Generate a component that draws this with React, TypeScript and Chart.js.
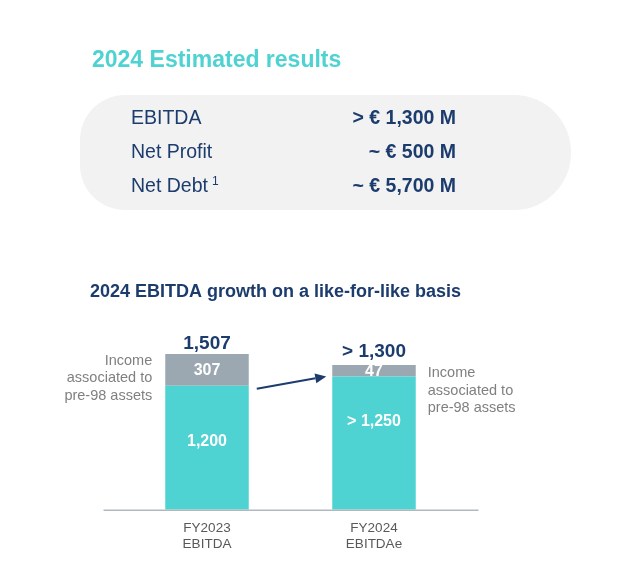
import React, { useEffect, useRef } from "react";
import { Chart, registerables } from "chart.js";

Chart.register(...registerables);

// ---------- data ----------
const categories = [["FY2023", "EBITDA"], ["FY2024", "EBITDAe"]];
// segment heights as drawn in the picture (EUR M)
const baseValues = [1200, 1290];
const pre98Values = [307, 110];
const baseLabels = ["1,200", "> 1,250"];
const pre98Labels = ["307", "47"];
const totalLabels = ["1,507", "> 1,300"];
const annotationLines = ["Income", "associated to", "pre-98 assets"];
const headerTitle = "2024 Estimated results";
const chartTitle = "2024 EBITDA growth on a like-for-like basis";
const summaryNames = ["EBITDA", "Net Profit", "Net Debt"];
const summaryValues = ["> \u20AC 1,300 M", "~ \u20AC 500 M", "~ \u20AC 5,700 M"];
const summaryNotes = ["", "", "1"];

// ---------- style ----------
const FONT = '"Liberation Sans", Arial, Helvetica, sans-serif';
const TEAL = "#4fd2d2";
const GREY_SEG = "#9ca8b1";
const NAVY = "#1c3c6e";
const GREY_TXT = "#808080";
const TICK = "#595959";
const BASE_LABEL_FRAC = [0.45, 0.335];
const TOTAL_OFFSET = [5, 8];

const overlay = {
  id: "overlay",
  beforeDraw(chart: any) {
    const ctx = chart.ctx as CanvasRenderingContext2D;
    ctx.save();
    ctx.fillStyle = "#ffffff";
    ctx.fillRect(0, 0, chart.width, chart.height);

    // header title
    ctx.fillStyle = TEAL;
    ctx.font = `bold 23px ${FONT}`;
    ctx.textAlign = "left";
    ctx.textBaseline = "alphabetic";
    ctx.fillText(headerTitle, 92, 67);

    // summary box
    ctx.fillStyle = "#f2f2f2";
    ctx.beginPath();
    (ctx as any).roundRect(80, 95, 491, 115, [45, 57, 57, 45]);
    ctx.fill();

    const rowBase = [124, 157.5, 191.5];
    summaryNames.forEach((name, i) => {
      ctx.fillStyle = NAVY;
      ctx.font = `19.5px ${FONT}`;
      ctx.textAlign = "left";
      ctx.fillText(name, 131, rowBase[i]);
      if (summaryNotes[i]) {
        const w = ctx.measureText(name).width;
        ctx.font = `12px ${FONT}`;
        ctx.fillText(summaryNotes[i], 131 + w + 4, rowBase[i] - 7);
      }
      ctx.font = `bold 19.5px ${FONT}`;
      ctx.textAlign = "right";
      ctx.fillText(summaryValues[i], 456, rowBase[i]);
    });

    // chart title
    ctx.fillStyle = NAVY;
    ctx.font = `bold 18px ${FONT}`;
    ctx.textAlign = "left";
    ctx.fillText(chartTitle, 90, 297);
    ctx.restore();
  },
  afterDatasetsDraw(chart: any) {
    const ctx = chart.ctx as CanvasRenderingContext2D;
    const area = chart.chartArea;
    const m0 = chart.getDatasetMeta(0);
    const m1 = chart.getDatasetMeta(1);
    ctx.save();

    // axis line
    ctx.strokeStyle = "#b1b9c0";
    ctx.lineWidth = 1.5;
    ctx.beginPath();
    ctx.moveTo(area.left - 20, area.bottom + 0.5);
    ctx.lineTo(area.right + 21, area.bottom + 0.5);
    ctx.stroke();

    const bars0 = m0.data.map((b: any) => b.getProps(["x", "y", "base", "width"], true));
    const bars1 = m1.data.map((b: any) => b.getProps(["x", "y", "base", "width"], true));

    // segment labels
    ctx.fillStyle = "#ffffff";
    ctx.font = `bold 16px ${FONT}`;
    ctx.textAlign = "center";
    ctx.textBaseline = "middle";
    bars0.forEach((b: any, i: number) => {
      const y = b.y + (b.base - b.y) * BASE_LABEL_FRAC[i];
      ctx.fillText(baseLabels[i], b.x, y);
    });
    bars1.forEach((b: any, i: number) => {
      ctx.fillText(pre98Labels[i], b.x, (b.y + b.base) / 2 + 1);
    });

    // totals
    ctx.fillStyle = NAVY;
    ctx.font = `bold 19px ${FONT}`;
    ctx.textBaseline = "alphabetic";
    bars1.forEach((b: any, i: number) => {
      ctx.fillText(totalLabels[i], b.x, b.y - TOTAL_OFFSET[i]);
    });

    // annotations
    ctx.fillStyle = GREY_TXT;
    ctx.font = `14.5px ${FONT}`;
    ctx.textBaseline = "middle";
    const l = bars1[0];
    ctx.textAlign = "right";
    annotationLines.forEach((t, k) => {
      ctx.fillText(t, l.x - l.width / 2 - 13, l.y + 7 + k * 17.5);
    });
    const r = bars1[1];
    ctx.textAlign = "left";
    annotationLines.forEach((t, k) => {
      ctx.fillText(t, r.x + r.width / 2 + 12, r.y + 8 + k * 17.5);
    });

    // arrow
    const sx = bars0[0].x + bars0[0].width / 2 + 8;
    const sy = bars0[0].y + 3;
    const ex = bars0[1].x - bars0[1].width / 2 - 6;
    const ey = bars0[1].y;
    const ang = Math.atan2(ey - sy, ex - sx);
    const hl = 11;
    const hw = 5;
    ctx.strokeStyle = NAVY;
    ctx.fillStyle = NAVY;
    ctx.lineWidth = 2;
    ctx.beginPath();
    ctx.moveTo(sx, sy);
    ctx.lineTo(ex - hl * Math.cos(ang), ey - hl * Math.sin(ang));
    ctx.stroke();
    ctx.beginPath();
    ctx.moveTo(ex, ey);
    ctx.lineTo(ex - hl * Math.cos(ang) + hw * Math.sin(ang), ey - hl * Math.sin(ang) - hw * Math.cos(ang));
    ctx.lineTo(ex - hl * Math.cos(ang) - hw * Math.sin(ang), ey - hl * Math.sin(ang) + hw * Math.cos(ang));
    ctx.closePath();
    ctx.fill();

    ctx.restore();
  },
};

export default function App() {
  const ref = useRef<HTMLCanvasElement>(null);
  useEffect(() => {
    const chart = new Chart(ref.current as HTMLCanvasElement, {
      type: "bar",
      data: {
        labels: categories as any,
        datasets: [
          {
            label: "Like-for-like",
            data: baseValues,
            backgroundColor: TEAL,
            barPercentage: 0.5,
            categoryPercentage: 1,
          },
          {
            label: "Pre-98 assets",
            data: pre98Values,
            backgroundColor: GREY_SEG,
            barPercentage: 0.5,
            categoryPercentage: 1,
          },
        ],
      },
      options: {
        animation: false,
        responsive: false,
        layout: { padding: { top: 303, bottom: 13, left: 123.5, right: 182.5 } },
        plugins: { legend: { display: false }, tooltip: { enabled: false } },
        scales: {
          x: {
            stacked: true,
            grid: { display: false, drawTicks: false },
            border: { display: false },
            ticks: {
              color: TICK,
              padding: 10,
              font: { family: FONT, size: 13.5, lineHeight: 1.19 },
            },
          },
          y: { stacked: true, display: false, min: 0, max: 2000 },
        },
      },
      plugins: [overlay],
    });
    return () => chart.destroy();
  }, []);
  return (
    <div style={{ position: "fixed", left: 0, top: 0, width: 640, height: 575, background: "#fff" }}>
      <canvas ref={ref} width={640} height={575} style={{ display: "block", width: 640, height: 575 }} />
    </div>
  );
}
